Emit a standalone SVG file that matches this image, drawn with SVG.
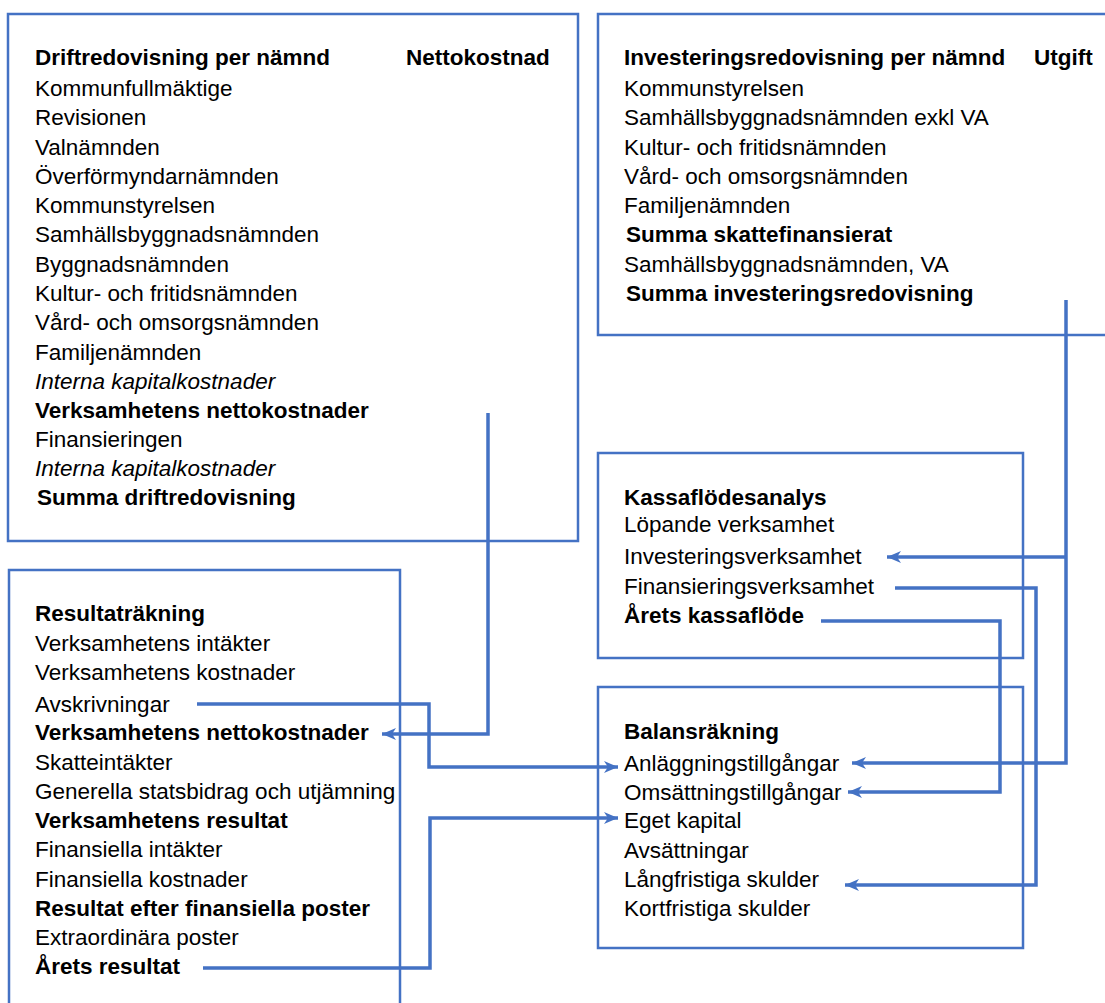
<svg xmlns="http://www.w3.org/2000/svg" width="1105" height="1003" viewBox="0 0 1105 1003">
<defs>
<style>
.box{fill:none;stroke:#4472C4;stroke-width:2.5}
.t{font-family:"Liberation Sans",Arial,sans-serif;font-size:22.5px;fill:#000}
.b{font-weight:bold}
.i{font-style:italic}
.c{fill:none;stroke:#4472C4;stroke-width:3.5;stroke-linejoin:miter}
</style>
<marker id="ah" markerUnits="userSpaceOnUse" markerWidth="16" markerHeight="14" refX="14" refY="7" orient="auto">
<path d="M0,1 L14,7 L0,13 L4,7 Z" fill="#4472C4"/>
</marker>
</defs>
<rect width="1105" height="1003" fill="#fff"/>

<g id="drift">
<rect class="box" x="8" y="14" width="570" height="527"/>
<text class="t b" x="35" y="65">Driftredovisning per nämnd</text>
<text class="t b" x="406" y="65">Nettokostnad</text>
<text class="t" x="35" y="96">Kommunfullmäktige</text>
<text class="t" x="35" y="125">Revisionen</text>
<text class="t" x="35" y="155">Valnämnden</text>
<text class="t" x="35" y="184">Överförmyndarnämnden</text>
<text class="t" x="35" y="213">Kommunstyrelsen</text>
<text class="t" x="35" y="242">Samhällsbyggnadsnämnden</text>
<text class="t" x="35" y="272">Byggnadsnämnden</text>
<text class="t" x="35" y="301">Kultur- och fritidsnämnden</text>
<text class="t" x="35" y="330">Vård- och omsorgsnämnden</text>
<text class="t" x="35" y="360">Familjenämnden</text>
<text class="t i" x="35" y="389">Interna kapitalkostnader</text>
<text class="t b" x="35" y="418">Verksamhetens nettokostnader</text>
<text class="t" x="35" y="447">Finansieringen</text>
<text class="t i" x="35" y="476">Interna kapitalkostnader</text>
<text class="t b" x="37" y="505">Summa driftredovisning</text>
</g>

<g id="invest">
<rect class="box" x="598" y="14" width="520" height="321"/>
<text class="t b" x="624" y="65">Investeringsredovisning per nämnd</text>
<text class="t b" x="1034" y="65">Utgift</text>
<text class="t" x="624" y="96">Kommunstyrelsen</text>
<text class="t" x="624" y="125">Samhällsbyggnadsnämnden exkl VA</text>
<text class="t" x="624" y="155">Kultur- och fritidsnämnden</text>
<text class="t" x="624" y="184">Vård- och omsorgsnämnden</text>
<text class="t" x="624" y="213">Familjenämnden</text>
<text class="t b" x="626" y="242">Summa skattefinansierat</text>
<text class="t" x="624" y="272">Samhällsbyggnadsnämnden, VA</text>
<text class="t b" x="626" y="301">Summa investeringsredovisning</text>
</g>

<g id="kassa">
<rect class="box" x="598" y="453" width="425" height="205"/>
<text class="t b" x="624" y="505">Kassaflödesanalys</text>
<text class="t" x="624" y="532">Löpande verksamhet</text>
<text class="t" x="624" y="564">Investeringsverksamhet</text>
<text class="t" x="624" y="594">Finansieringsverksamhet</text>
<text class="t b" x="624" y="623">Årets kassaflöde</text>
</g>

<g id="resultat">
<rect class="box" x="9" y="570" width="391" height="450"/>
<text class="t b" x="35" y="621">Resultaträkning</text>
<text class="t" x="35" y="651">Verksamhetens intäkter</text>
<text class="t" x="35" y="680">Verksamhetens kostnader</text>
<text class="t" x="35" y="712">Avskrivningar</text>
<text class="t b" x="35" y="740">Verksamhetens nettokostnader</text>
<text class="t" x="35" y="770">Skatteintäkter</text>
<text class="t" x="35" y="799">Generella statsbidrag och utjämning</text>
<text class="t b" x="35" y="828">Verksamhetens resultat</text>
<text class="t" x="35" y="857">Finansiella intäkter</text>
<text class="t" x="35" y="887">Finansiella kostnader</text>
<text class="t b" x="35" y="916">Resultat efter finansiella poster</text>
<text class="t" x="35" y="945">Extraordinära poster</text>
<text class="t b" x="35" y="974">Årets resultat</text>
</g>

<g id="balans">
<rect class="box" x="598" y="687" width="425" height="261"/>
<text class="t b" x="624" y="739">Balansräkning</text>
<text class="t" x="624" y="771">Anläggningstillgångar</text>
<text class="t" x="624" y="800">Omsättningstillgångar</text>
<text class="t" x="624" y="828">Eget kapital</text>
<text class="t" x="624" y="858">Avsättningar</text>
<text class="t" x="624" y="887">Långfristiga skulder</text>
<text class="t" x="624" y="916">Kortfristiga skulder</text>
</g>

<g id="connectors">
<path class="c" d="M488,413 V734 H382" marker-end="url(#ah)"/>
<path class="c" d="M197,704 H429 V767 H618" marker-end="url(#ah)"/>
<path class="c" d="M203,968 H430 V818 H618" marker-end="url(#ah)"/>
<path class="c" d="M1066,300 V763 H852" marker-end="url(#ah)"/>
<path class="c" d="M1066,557 H887" marker-end="url(#ah)"/>
<path class="c" d="M895,588 H1036 V885 H845" marker-end="url(#ah)"/>
<path class="c" d="M821,621 H1000 V792 H848" marker-end="url(#ah)"/>
</g>
</svg>
